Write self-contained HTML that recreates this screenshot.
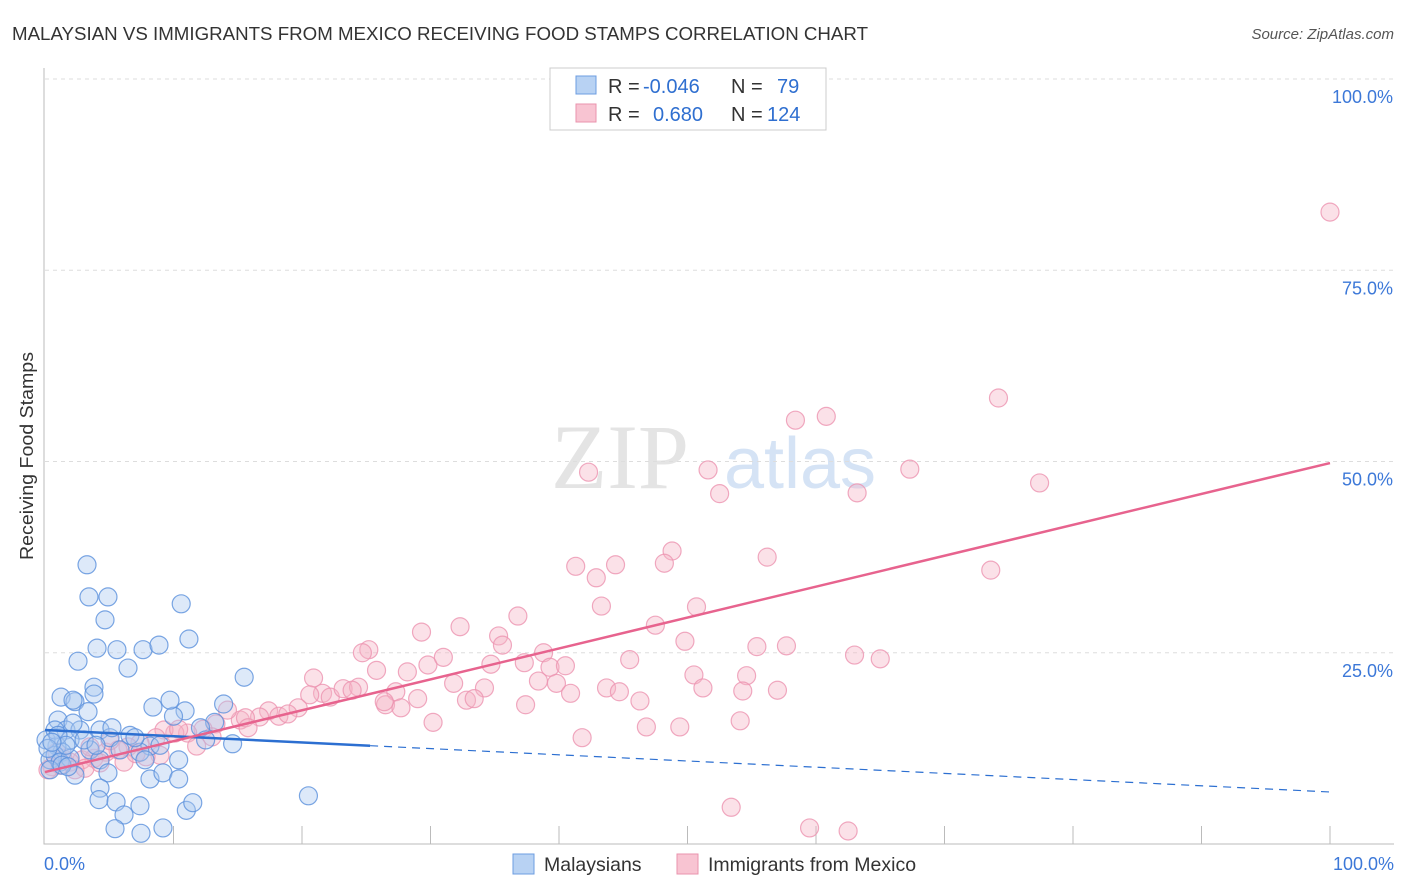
<!DOCTYPE html>
<html><head><meta charset="utf-8"><style>
body{margin:0;background:#fff;font-family:"Liberation Sans",sans-serif;}
svg{display:block}
</style></head><body>
<svg id="chart" width="1406" height="892" xmlns="http://www.w3.org/2000/svg">
<text x="12" y="40" font-size="18" fill="#333" textLength="856" lengthAdjust="spacingAndGlyphs">MALAYSIAN VS IMMIGRANTS FROM MEXICO RECEIVING FOOD STAMPS CORRELATION CHART</text>
<text x="1394" y="39" font-size="15" fill="#555" font-style="italic" text-anchor="end">Source: ZipAtlas.com</text>
<text x="620" y="488" font-size="92" fill="#e4e4e4" font-family="Liberation Serif,serif" text-anchor="middle">ZIP</text>
<text x="800" y="488" font-size="72" fill="#d5e3f5" text-anchor="middle">atlas</text>
<text transform="translate(33,456) rotate(-90)" font-size="18" fill="#333" text-anchor="middle" textLength="208" lengthAdjust="spacingAndGlyphs">Receiving Food Stamps</text>
<g id="grid"></g><g id="pts"></g><g id="lines"></g>
<g>
<rect x="550" y="68" width="276" height="62" fill="#fff" stroke="#ccc"/>
<rect x="576" y="76" width="20" height="18" fill="#b8d2f3" stroke="#6c9de0"/>
<rect x="576" y="104" width="20" height="18" fill="#f8c4d2" stroke="#ea93ad"/>
<text x="608" y="93" font-size="20" fill="#333">R = <tspan x="643" fill="#2f6fd0">-0.046</tspan><tspan x="731">N = </tspan><tspan x="777" fill="#2f6fd0">79</tspan></text>
<text x="608" y="121" font-size="20" fill="#333">R = <tspan x="653" fill="#2f6fd0">0.680</tspan><tspan x="731">N = </tspan><tspan x="767" fill="#2f6fd0">124</tspan></text>
</g>
<g>
<rect x="513" y="854" width="21" height="20" fill="#b8d2f3" stroke="#6c9de0"/>
<text x="544" y="871" font-size="19.5" fill="#333">Malaysians</text>
<rect x="677" y="854" width="21" height="20" fill="#f8c4d2" stroke="#ea93ad"/>
<text x="708" y="871" font-size="19.5" fill="#333">Immigrants from Mexico</text>
</g>
</svg>
<script>
const xTicks=[0,10,20,30,40,50,60,70,80,90,100];
const yTicks=[25,50,75,100];
const blueX=[3.27,3.42,4.9,4.67,4.05,5.6,7.63,8.87,11.2,10.6,2.57,6.46,3.81,1.25,2.33,2.18,3.35,1.01,8.4,10.9,10.0,13.9,15.5,1.63,2.72,4.28,1.95,5.06,8.17,0.93,1.32,0.08,0.39,0.78,1.17,1.95,3.5,4.28,5.84,7.39,8.95,13.2,14.6,10.4,4.9,8.17,9.18,10.4,4.28,4.2,5.53,7.39,6.15,5.45,7.47,9.18,11.0,11.5,20.5,0.78,0.39,2.33,3.04,3.97,6.61,7.78,1.01,0.23,1.32,1.63,5.21,7.0,12.1,9.73,3.81,2.18,1.79,12.5,0.54];
const blueY=[36.5,32.3,32.3,29.3,25.6,25.4,25.4,26.0,26.8,31.4,23.9,23.0,20.5,19.2,18.6,18.8,17.3,16.2,17.9,17.4,16.7,18.3,21.8,14.9,14.9,14.9,13.6,13.9,12.8,12.8,12.0,13.6,11.0,11.6,10.7,11.2,12.3,11.0,12.3,12.0,12.9,15.9,13.1,11.0,9.3,8.5,9.3,8.5,7.3,5.8,5.5,5.0,3.8,2.0,1.4,2.1,4.4,5.4,6.3,14.9,9.7,9.0,13.6,12.9,14.2,11.0,14.2,12.5,10.3,12.9,15.2,13.9,15.2,18.8,19.6,15.8,10.1,13.6,13.3];
const pinkX=[100,74.2,60.8,58.4,67.3,42.3,51.6,77.4,52.5,63.2,48.8,48.2,56.2,41.3,44.4,42.9,73.6,43.3,50.7,36.8,32.3,47.5,29.3,35.3,49.8,55.4,57.7,25.2,24.7,38.8,35.6,45.5,63.0,65.0,25.8,28.2,29.8,31.0,34.7,39.3,40.5,37.3,20.9,31.8,34.2,38.4,39.8,50.5,54.6,43.7,51.2,44.7,54.3,57.0,27.3,29.0,21.6,20.6,22.2,23.2,24.4,23.9,32.8,33.4,46.3,37.4,40.9,26.5,27.7,26.4,19.7,17.4,16.7,18.2,18.9,15.2,15.6,14.2,13.3,12.3,11.1,10.1,9.26,10.4,30.2,46.8,49.4,54.1,41.8,8.64,11.8,7.39,6.46,5.68,4.75,3.81,2.88,1.95,1.17,0.54,0.23,6.15,3.11,8.95,5.06,53.4,59.5,62.5,15.8,13.0,7.86,7.08,4.28,1.4,2.33,0.93,3.5];
const pinkY=[82.6,58.3,55.9,55.4,49.0,48.6,48.9,47.2,45.8,45.9,38.3,36.7,37.5,36.3,36.5,34.8,35.8,31.1,31.0,29.8,28.4,28.6,27.7,27.2,26.5,25.8,25.9,25.4,25.0,25.0,26.0,24.1,24.7,24.2,22.7,22.5,23.4,24.4,23.5,23.1,23.3,23.7,21.7,21.0,20.4,21.3,21.0,22.1,22.0,20.4,20.4,19.9,20.0,20.1,19.9,19.0,19.7,19.5,19.2,20.3,20.5,20.1,18.8,19.0,18.7,18.2,19.7,18.2,17.8,18.6,17.8,17.4,16.6,16.7,17.0,16.2,16.5,17.5,15.7,15.0,14.5,14.5,14.9,15.0,15.9,15.3,15.3,16.1,13.9,13.9,12.8,13.2,12.7,12.3,12.0,11.2,11.0,10.7,10.3,10.1,9.7,10.7,9.9,11.6,13.5,4.8,2.1,1.7,15.2,14.0,11.4,11.8,10.6,11.2,9.7,12.0,12.7];
const blueTrend=[14.9,-0.081];
const pinkTrend=[9.4,0.404];
const blueSolidEnd=25.3;

const NS='http://www.w3.org/2000/svg';
const X=v=>45+v*12.85, Y=v=>844-v*7.65;
function mk(tag,attrs,parent){const e=document.createElementNS(NS,tag);for(const k in attrs)e.setAttribute(k,attrs[k]);parent.appendChild(e);return e;}
const grid=document.getElementById('grid'),pts=document.getElementById('pts'),lines=document.getElementById('lines');
yTicks.forEach(t=>{
 const l=mk('line',{x1:45,x2:1394,y1:Y(t),y2:Y(t),stroke:'#ddd','stroke-dasharray':'4,4'},grid);
 
 
 const tx=mk('text',{x:1393,y:Y(t)+24,'font-size':18,fill:'#3c78d8','text-anchor':'end'},grid);
 tx.textContent=t.toFixed(1)+'%';
 
 
});
const ax=mk('path',{d:'M44,68 V844 H1394',fill:'none',stroke:'#bbb'},grid);


xTicks.forEach(t=>{
 if(t===0)return;
 const l=mk('line',{x1:X(t),x2:X(t),y1:826,y2:844,stroke:'#bbb'},grid);
 
 
});
[[0,'0.0%','start',44],[100,'100.0%','end',1394]].forEach(a=>{
 const tx=mk('text',{x:a[3],y:870,'font-size':18,fill:'#3c78d8','text-anchor':a[2]},grid);
 tx.textContent=a[1];
 
 
});
function dots(xs,ys,fill,stroke,name){
 xs.forEach((x,i)=>{
  const c=mk('circle',{cx:X(x),cy:Y(ys[i]),r:9,fill:fill,'fill-opacity':0.4,stroke:stroke,'stroke-opacity':0.8,'stroke-width':1.2},pts);
  
  
 });
}
dots(pinkX,pinkY,'#f5b3c6','#ec94b0','mexico-point');
dots(blueX,blueY,'#a9c8f0','#5a90dc','malaysian-point');
const bt=x=>blueTrend[0]+blueTrend[1]*x, pt=x=>pinkTrend[0]+pinkTrend[1]*x;
const b1=mk('line',{x1:X(0),y1:Y(bt(0)),x2:X(blueSolidEnd),y2:Y(bt(blueSolidEnd)),stroke:'#2c6fd1','stroke-width':2.5},lines);


const b2=mk('line',{x1:X(blueSolidEnd),y1:Y(bt(blueSolidEnd)),x2:X(100),y2:Y(bt(100)),stroke:'#2c6fd1','stroke-width':1.2,'stroke-dasharray':'8,6'},lines);


const p1=mk('line',{x1:X(0),y1:Y(pt(0)),x2:X(100),y2:Y(pt(100)),stroke:'#e7638e','stroke-width':2.5},lines);


</script>
</body></html>
